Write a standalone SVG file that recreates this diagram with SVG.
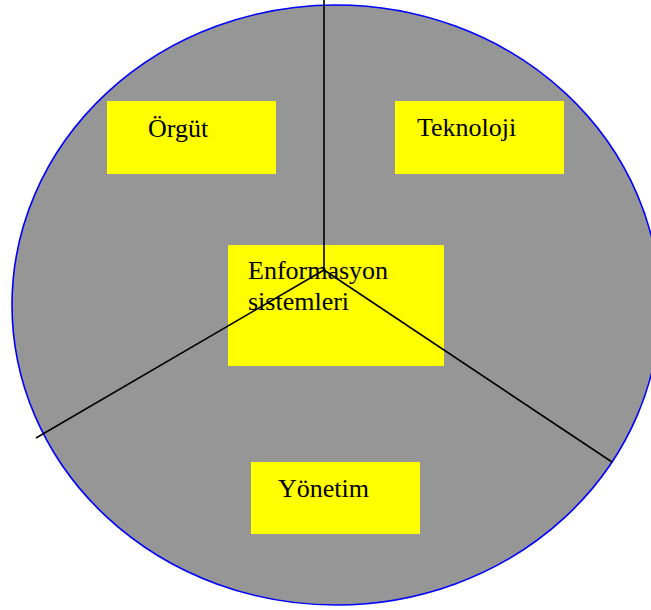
<svg xmlns="http://www.w3.org/2000/svg" width="651" height="610" viewBox="0 0 651 610">
  <style>
    .box { fill: #ffff00; }
    .label { font-family: "Liberation Serif", "Times New Roman", serif; font-size: 26px; fill: #000000; }
    .divider { stroke: #000000; stroke-width: 1.6; fill: none; }
  </style>
  <rect width="651" height="610" fill="#ffffff"/>
  <g id="circle">
    <ellipse cx="336" cy="305" rx="324" ry="300" fill="#969696" stroke="#0000ff" stroke-width="1.6"/>
  </g>
  <g id="organisation">
    <rect class="box" x="107" y="101" width="169" height="73"/>
    <text class="label" x="148" y="137">Örgüt</text>
  </g>
  <g id="technology">
    <rect class="box" x="395" y="101" width="169" height="73"/>
    <text class="label" x="417" y="136">Teknoloji</text>
  </g>
  <g id="information-systems">
    <rect class="box" x="228" y="245" width="216" height="121"/>
    <text class="label" x="248" y="279">Enformasyon</text>
    <text class="label" x="248" y="310">sistemleri</text>
  </g>
  <g id="management">
    <rect class="box" x="251" y="462" width="169" height="72"/>
    <text class="label" x="278" y="497">Yönetim</text>
  </g>
  <g id="connectors">
    <line class="divider" x1="324" y1="0" x2="324" y2="270"/>
    <line class="divider" x1="324" y1="270" x2="36" y2="438"/>
    <line class="divider" x1="324" y1="270" x2="612" y2="462"/>
  </g>
</svg>
